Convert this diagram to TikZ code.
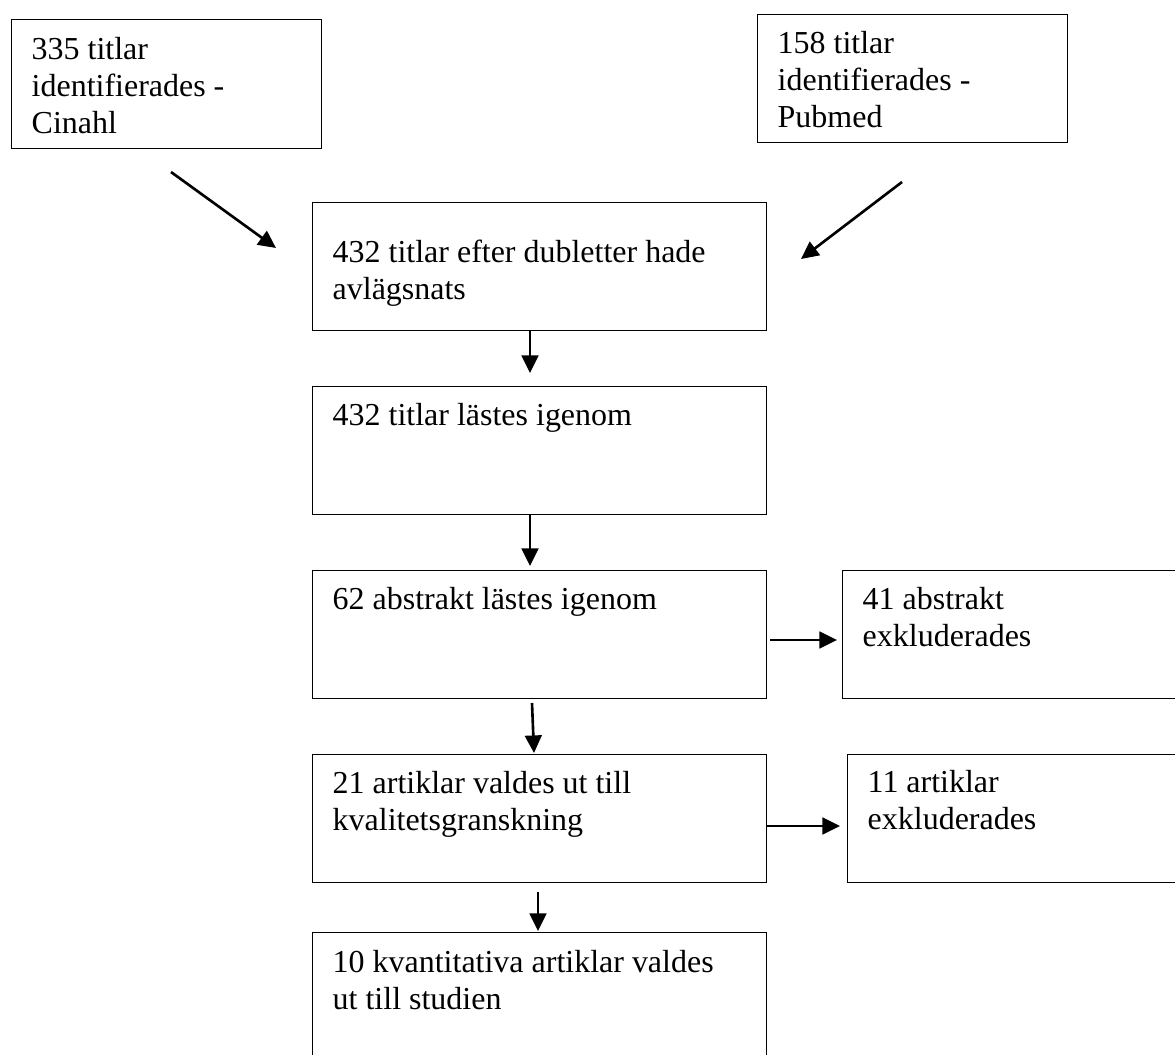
\documentclass[tikz,border=0pt]{standalone}
\usepackage{fontspec}
\setmainfont{Liberation Serif}
\usetikzlibrary{arrows.meta}
\newlength\pxu
\setlength\pxu{0.02cm}
\newcommand\bxt[4]{\parbox[t][#2\pxu][t]{#1\pxu}{\raggedright\vspace*{#3\pxu}\strut #4}}
\begin{document}
\begin{tikzpicture}[x=0.02cm,y=-0.02cm,
  every node/.style={font=\fontsize{18.2}{21}\selectfont},
  fbox/.style={draw, line width=0.8pt, inner xsep=20\pxu, inner ysep=0pt, anchor=north west},
  arr/.style={-{Triangle[length=10pt,width=9.5pt]}, line width=1.5pt}]
\useasboundingbox (0,0) rectangle (1175,1054);
\clip (0,0) rectangle (1175,1054);
\node[fbox] (cin) at (11,19) {\bxt{270}{129}{14}{335 titlar\\identifierades -\\Cinahl}};
\node[fbox] (pub) at (757,14) {\bxt{270}{128}{13}{158 titlar\\identifierades -\\Pubmed}};
\node[fbox] (dup) at (312,202) {\bxt{414}{128}{34}{432 titlar efter dubletter hade\\avlägsnats}};
\node[fbox] (tit) at (312,386) {\bxt{414}{128}{13}{432 titlar lästes igenom}};
\node[fbox] (abs) at (312,570) {\bxt{414}{128}{13}{62 abstrakt lästes igenom}};
\node[fbox] (absx) at (842,570) {\bxt{300}{128}{13}{41 abstrakt\\exkluderades}};
\node[fbox] (art) at (312,754) {\bxt{414}{128}{13}{21 artiklar valdes ut till\\kvalitetsgranskning}};
\node[fbox] (artx) at (847,754) {\bxt{300}{128}{12}{11 artiklar\\exkluderades}};
\node[fbox] (fin) at (312,932) {\bxt{414}{128}{14}{10 kvantitativa artiklar valdes\\ut till studien}};
\coordinate (c1s) at (171,172);
\coordinate (c1e) at (276,248);
\coordinate (p1s) at (902,182);
\coordinate (p1e) at (801,259);
\coordinate (t1) at (530,373);
\coordinate (t2) at (530,566);
\coordinate (s3) at (532,703);
\coordinate (e3) at (534,753);
\coordinate (s4) at (538,892);
\coordinate (e4) at (538,931);
\coordinate (s5) at (770,640);
\coordinate (e5) at (837,640);
\coordinate (e6) at (840,826);
\draw[arr] (c1s) -- (c1e);
\draw[arr] (p1s) -- (p1e);
\draw[arr] (dup.south -| t1) -- (t1);
\draw[arr] (tit.south -| t2) -- (t2);
\draw[arr] (s3) -- (e3);
\draw[arr] (s4) -- (e4);
\draw[arr] (s5) -- (e5);
\draw[arr] (art.east |- e6) -- (e6);
\end{tikzpicture}
\end{document}
